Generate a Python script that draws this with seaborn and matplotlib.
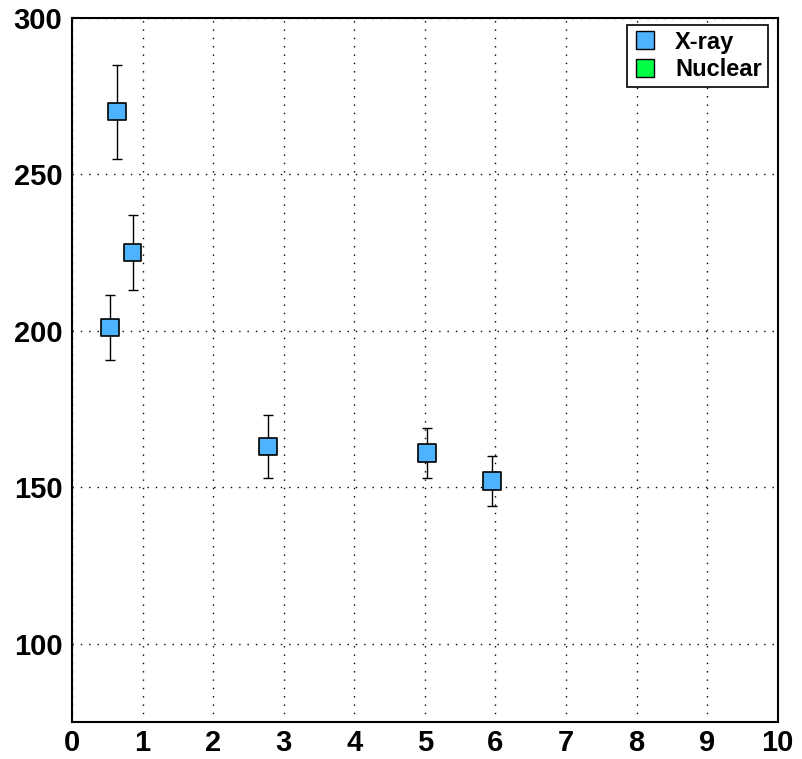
import matplotlib
matplotlib.use("Agg")
import matplotlib.pyplot as plt
from matplotlib.lines import Line2D
import seaborn as sns
import pandas as pd

# X-ray measurements with symmetric uncertainties
xray_x = [0.64, 0.86, 0.54, 2.78, 5.03, 5.95]
xray_y = [270, 225, 201, 163, 161, 152]
xray_err = [15, 12, 10.5, 10, 8, 8]

series_names = ["X-ray", "Nuclear"]
series_colors = ["#4db3ff", "#00ff44"]

x_ticks = [0, 1, 2, 3, 4, 5, 6, 7, 8, 9, 10]
y_ticks = [100, 150, 200, 250, 300]

sns.set_style("white")
plt.rcParams["font.family"] = ["Liberation Sans", "DejaVu Sans"]
plt.rcParams["text.color"] = "black"
plt.rcParams["xtick.color"] = "black"
plt.rcParams["ytick.color"] = "black"

df = pd.DataFrame({"x": xray_x, "y": xray_y, "err": xray_err, "source": "X-ray"})

fig = plt.figure(figsize=(8.02, 7.59), dpi=100)
ax = fig.add_axes([0.0898, 0.0487, 0.880, 0.928])

ax.errorbar(df["x"], df["y"], yerr=df["err"], fmt="none", ecolor="black",
            elinewidth=1.0, capsize=3.5, capthick=1.0, zorder=2)
sns.scatterplot(data=df, x="x", y="y", hue="source", palette=[series_colors[0]],
                marker="s", s=160, edgecolor="black", linewidth=1.2,
                legend=False, ax=ax, zorder=3)

ax.set_xlim(0, 10)
ax.set_ylim(75, 300)
ax.set_xticks(x_ticks)
ax.set_yticks(y_ticks)
ax.set_xlabel("")
ax.set_ylabel("")
ax.grid(True, color="black", linestyle=(0, (1, 5)), linewidth=1.0)
ax.tick_params(direction="in", length=6, width=1, labelsize=21, pad=5,
               top=False, right=False, colors="black")
ax.tick_params(axis="y", pad=7)
for lab in ax.get_xticklabels() + ax.get_yticklabels():
    lab.set_fontweight("bold")
for sp in ax.spines.values():
    sp.set_linewidth(1.5)
    sp.set_color("black")

handles = [Line2D([], [], linestyle="none", marker="s", markersize=13,
                  markerfacecolor=c, markeredgecolor="black", markeredgewidth=1)
           for c in series_colors]
leg = ax.legend(handles, series_names, loc="upper right", fancybox=False,
                framealpha=1, edgecolor="black", prop={"weight": "bold", "size": 17},
                handlelength=1.0, handletextpad=0.8, borderpad=0.25,
                labelspacing=0.2, borderaxespad=0, bbox_to_anchor=(0.986, 0.99))
leg.get_frame().set_linewidth(1.2)

fig.savefig("out.png", dpi=100)
